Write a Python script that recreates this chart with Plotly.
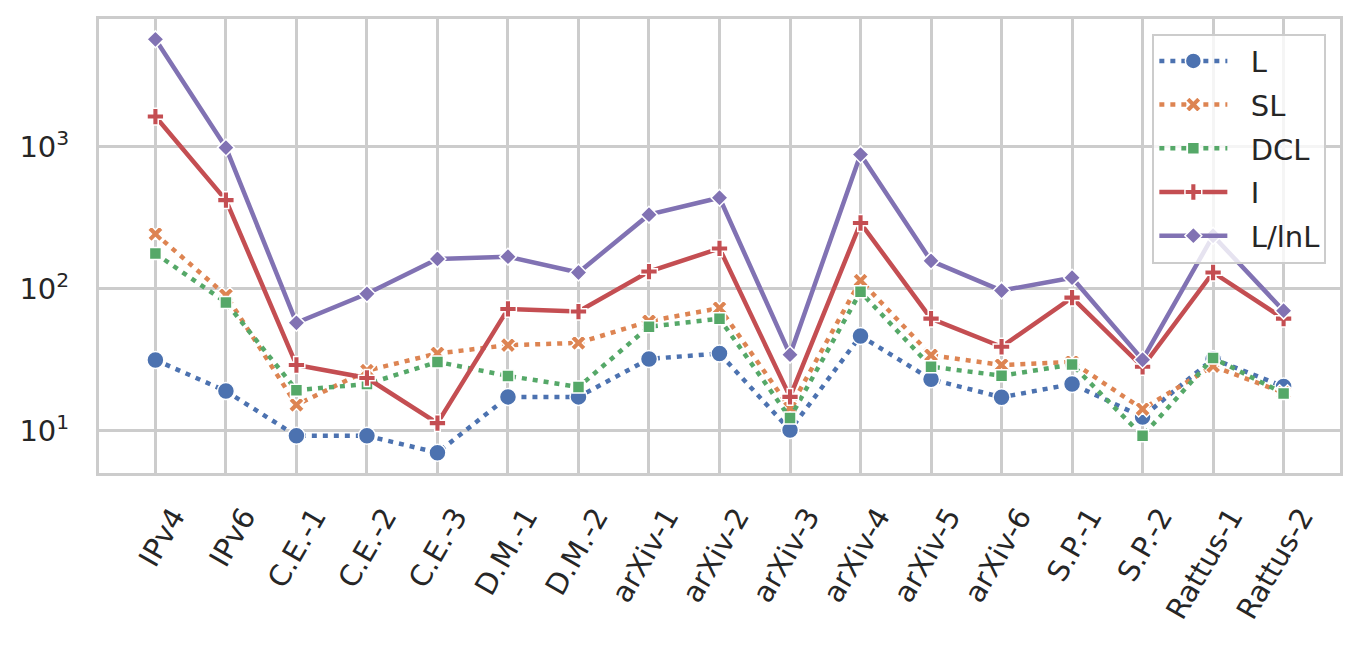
import plotly.graph_objects as go

categories = ["IPv4", "IPv6", "C.E.-1", "C.E.-2", "C.E.-3", "D.M.-1", "D.M.-2",
              "arXiv-1", "arXiv-2", "arXiv-3", "arXiv-4", "arXiv-5", "arXiv-6",
              "S.P.-1", "S.P.-2", "Rattus-1", "Rattus-2"]

L_vals = [31.5, 19, 9.2, 9.2, 7.0, 17.3, 17.3, 32, 35, 10.1, 46.5, 23, 17.2, 21.3, 12.5, 32, 20.5]
SL_vals = [243, 90, 15.2, 26.5, 35, 40, 41.5, 59, 73, 14.5, 114, 34, 29, 30.5, 14.2, 28.5, 18.5]
DCL_vals = [177, 80, 19.3, 21.3, 30.5, 24.3, 20.3, 54, 61.5, 12.3, 95, 28.2, 24.4, 29.2, 9.2, 32.5, 18.3]
I_vals = [1630, 420, 29, 23.5, 11.3, 72, 69, 132, 192, 17.3, 290, 61.5, 39, 86.5, 28.2, 130, 61.5]
LlnL_vals = [5700, 985, 57.5, 92, 162, 168, 130, 332, 437, 34.3, 880, 157, 97, 119.5, 31.6, 236, 70]

series_names = ["L", "SL", "DCL", "I", "L/lnL"]
series_values = [L_vals, SL_vals, DCL_vals, I_vals, LlnL_vals]
colors = ["#4C72B0", "#DD8452", "#55A868", "#C44E52", "#8172B3"]
symbols = ["circle", "x", "square", "cross", "diamond"]
sizes = [17, 14, 12, 14, 13]
dashes = ["5px,6px", "5px,6px", "5px,6px", "solid", "solid"]

y_tickvals = [10, 100, 1000]
y_ticktext = ["10<sup>1</sup>", "10<sup>2</sup>", "10<sup>3</sup>"]

fig = go.Figure()
x_idx = list(range(len(categories)))
for name, vals, c, sym, sz, d in zip(series_names, series_values, colors, symbols, sizes, dashes):
    fig.add_trace(go.Scatter(
        x=x_idx, y=vals, name="\u00a0\u00a0" + name, mode="lines+markers",
        legendgroup=name,
        line=dict(color=c, width=4.5, dash=d),
        marker=dict(symbol=sym, size=sz, color=c, line=dict(color="white", width=1.5)),
    ))

font_family = "DejaVu Sans"
tick_color = "#262626"
fs = 29
# page body has an 8px margin: plot area target is x 99..1340, y 19..473 in the screenshot
fig.update_layout(
    width=1359, height=645,
    margin=dict(l=91, r=27, t=11, b=180),
    paper_bgcolor="white", plot_bgcolor="white",
    font=dict(family=font_family, size=fs, color=tick_color),
    showlegend=True,
    legend=dict(
        x=0.989, y=0.968, xanchor="right", yanchor="top",
        bgcolor="rgba(255,255,255,0.8)", bordercolor="#cccccc", borderwidth=2,
        font=dict(family=font_family, size=fs, color=tick_color),
        itemwidth=68, tracegroupgap=3,
    ),
)
fig.update_xaxes(
    range=[-0.8, 16.8], automargin=False,
    tickmode="array", tickvals=x_idx, ticktext=categories,
    tickangle=-60, tickfont=dict(size=fs, family=font_family, color=tick_color),
    showgrid=True, gridcolor="#cccccc", gridwidth=3,
    showline=True, linecolor="#cccccc", linewidth=3, mirror=True,
    ticks="", zeroline=False, ticklabelshift=18, ticklabelstandoff=12,
)
fig.update_yaxes(
    type="log", range=[0.702, 3.899], automargin=False,
    tickmode="array", tickvals=y_tickvals, ticktext=y_ticktext,
    tickfont=dict(size=fs, family=font_family, color=tick_color),
    showgrid=True, gridcolor="#cccccc", gridwidth=3,
    showline=True, linecolor="#cccccc", linewidth=3, mirror=True,
    ticks="", zeroline=False, ticklabelstandoff=21,
)

fig.write_html("out.html")
